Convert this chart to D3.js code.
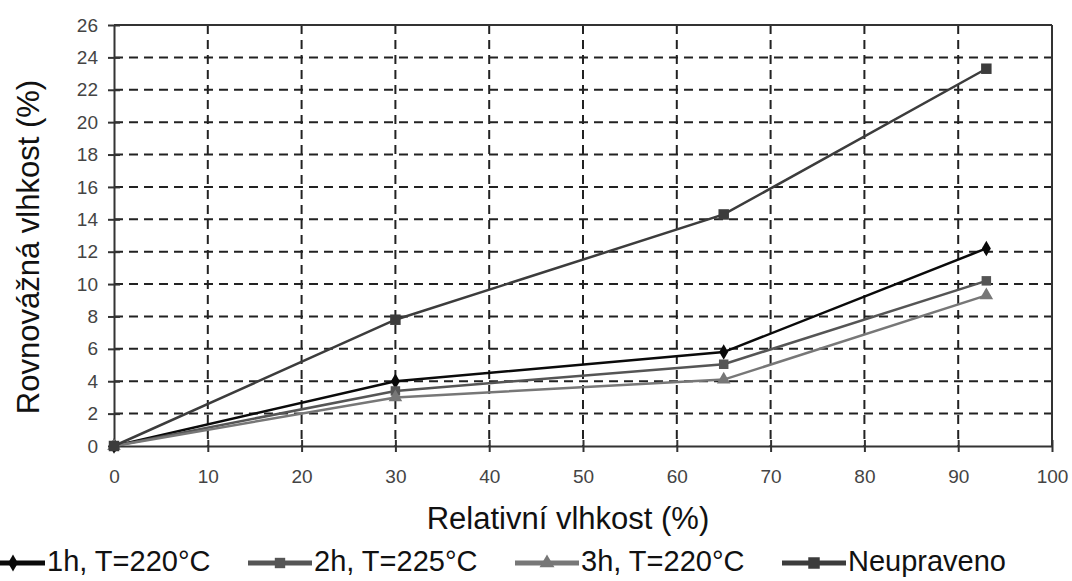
<!DOCTYPE html>
<html>
<head>
<meta charset="utf-8">
<script src="https://cdn.jsdelivr.net/npm/d3@7"></script>
<style>
  body { margin: 0; background: #fff; }
  svg { display: block; font-family: "Liberation Sans", Arial, sans-serif; }
</style>
</head>
<body>
<script>
// Data
const rh = [0, 30, 65, 93];
const seriesNames = ['1h, T=220°C', '2h, T=225°C', '3h, T=220°C', 'Neupraveno'];
const s1h = [0, 4.0, 5.8, 12.2];
const s2h = [0, 3.4, 5.05, 10.2];
const s3h = [0, 3.0, 4.1, 9.3];
const sNeu = [0, 7.8, 14.3, 23.3];
const xTicks = [0, 10, 20, 30, 40, 50, 60, 70, 80, 90, 100];
const yTicks = [0, 2, 4, 6, 8, 10, 12, 14, 16, 18, 20, 22, 24, 26];

const width = 1072, height = 581;
const margin = { top: 25, right: 20, bottom: 135, left: 114 };
const innerWidth = width - margin.left - margin.right;
const innerHeight = height - margin.top - margin.bottom;

const svg = d3.select('body').append('svg')
  .attr('width', width)
  .attr('height', height);

const g = svg.append('g')
  .attr('transform', `translate(${margin.left},${margin.top})`);

const x = d3.scaleLinear().domain([0, 100]).range([0, innerWidth]);
const y = d3.scaleLinear().domain([0, 26]).range([innerHeight, 0]);

// dashed grid
g.selectAll('.hgrid')
  .data(yTicks.filter(d => d > 0 && d < 26))
  .enter().append('line')
  .attr('x1', 0).attr('x2', innerWidth)
  .attr('y1', d => y(d)).attr('y2', d => y(d))
  .attr('stroke', '#222').attr('stroke-width', 2)
  .attr('stroke-dasharray', '9,6');

g.selectAll('.vgrid')
  .data(xTicks.filter(d => d > 0 && d < 100))
  .enter().append('line')
  .attr('x1', d => x(d)).attr('x2', d => x(d))
  .attr('y1', 0).attr('y2', innerHeight)
  .attr('stroke', '#222').attr('stroke-width', 2)
  .attr('stroke-dasharray', '9,6');

// frame top / right
g.append('line').attr('x1', 0).attr('x2', innerWidth).attr('y1', 0).attr('y2', 0)
  .attr('stroke', '#333').attr('stroke-width', 2);
g.append('line').attr('x1', innerWidth).attr('x2', innerWidth).attr('y1', 0).attr('y2', innerHeight)
  .attr('stroke', '#333').attr('stroke-width', 2);

// axes
const xAxis = d3.axisBottom(x).tickValues(xTicks).tickSizeInner(12).tickSizeOuter(0).tickPadding(12);
const yAxis = d3.axisLeft(y).tickValues(yTicks).tickSizeInner(12).tickSizeOuter(0).tickPadding(4);

const gx = g.append('g')
  .attr('transform', `translate(0,${innerHeight})`)
  .call(xAxis);
gx.selectAll('.tick line').attr('y1', -6).attr('y2', 6);

const gy = g.append('g').call(yAxis);
gy.selectAll('.tick line').attr('x1', 6).attr('x2', -6);

[gx, gy].forEach(a => {
  a.select('.domain').attr('stroke', '#333').attr('stroke-width', 2);
  a.selectAll('.tick line').attr('stroke', '#333').attr('stroke-width', 2);
  a.selectAll('.tick text')
    .attr('fill', '#444')
    .style('font-size', '19px')
    .style('font-family', '"Liberation Sans", Arial, sans-serif');
});
gx.selectAll('.tick text').attr('dy', '0.71em');

// series
const series = [
  { name: seriesNames[0], values: s1h, color: '#0a0a0a', symbol: d3.symbolDiamond, size: 70 },
  { name: seriesNames[1], values: s2h, color: '#555', symbol: d3.symbolSquare, size: 90 },
  { name: seriesNames[2], values: s3h, color: '#777', symbol: d3.symbolTriangle, size: 80 },
  { name: seriesNames[3], values: sNeu, color: '#3c3c3c', symbol: d3.symbolSquare, size: 110 }
];

const line = d3.line()
  .x((d, i) => x(rh[i]))
  .y(d => y(d));

series.forEach(s => {
  g.append('path')
    .datum(s.values)
    .attr('fill', 'none')
    .attr('stroke', s.color)
    .attr('stroke-width', 2.5)
    .attr('d', line);

  g.selectAll(null)
    .data(s.values)
    .enter().append('path')
    .attr('d', d3.symbol().type(s.symbol).size(s.size))
    .attr('transform', (d, i) => `translate(${x(rh[i])},${y(d)})`)
    .attr('fill', s.color);
});

// axis titles
svg.append('text')
  .attr('x', 568)
  .attr('y', 529)
  .attr('text-anchor', 'middle')
  .style('font-size', '31px')
  .attr('fill', '#111')
  .text('Relativní vlhkost (%)');

svg.append('text')
  .attr('transform', 'translate(39,247) rotate(-90)')
  .attr('text-anchor', 'middle')
  .style('font-size', '31px')
  .attr('fill', '#111')
  .text('Rovnovážná vlhkost (%)');

// legend
const legend = svg.selectAll('.legend')
  .data(series)
  .enter().append('g')
  .attr('class', 'legend')
  .attr('transform', (d, i) => `translate(${-19 + i * 267},563)`);

legend.append('line')
  .attr('x1', 0).attr('x2', 64)
  .attr('stroke', d => d.color)
  .attr('stroke-width', 5);

legend.append('path')
  .attr('d', d => d3.symbol().type(d.symbol).size(d.size * 1.2)())
  .attr('transform', 'translate(32,0)')
  .attr('fill', d => d.color);

legend.append('text')
  .attr('x', 66)
  .attr('y', 8)
  .style('font-size', '29px')
  .attr('fill', '#111')
  .text(d => d.name);
</script>
</body>
</html>
